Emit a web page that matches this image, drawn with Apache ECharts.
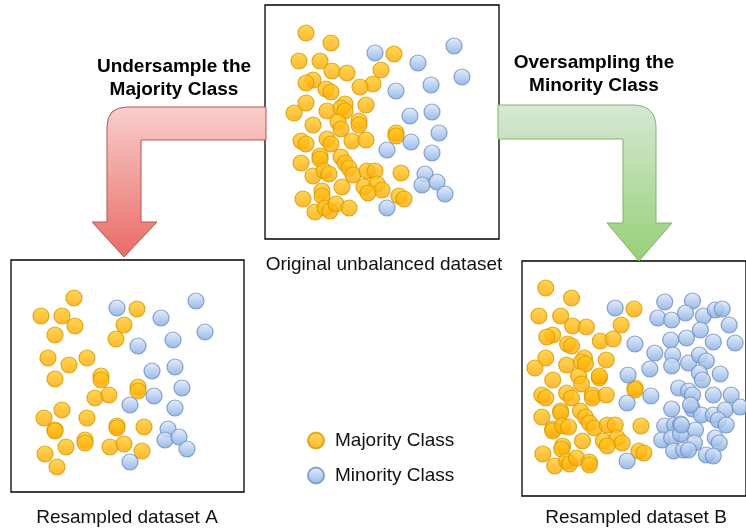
<!DOCTYPE html>
<html>
<head>
<meta charset="utf-8">
<script src="https://cdn.jsdelivr.net/npm/echarts@6/dist/echarts.min.js"></script>
<style>
  html, body { margin: 0; padding: 0; background: #fff; }
  #chart { width: 746px; height: 531px; }
</style>
</head>
<body>
<div id="chart"></div>
<script>
// point positions inside each box, in box pixels (x right, y down)
const origMajority = [[41,28],[66,38],[34,56],[55,56],[129,49],[116,65],[67,66],[82,68],[48,75],[41,78],[108,79],[95,82],[61,84],[66,87],[41,98],[29,108],[62,106],[80,99],[76,103],[80,106],[101,100],[48,120],[73,117],[76,124],[94,116],[94,120],[131,128],[131,131],[36,136],[41,139],[62,134],[66,139],[87,136],[101,135],[36,158],[55,151],[55,154],[76,152],[80,158],[84,163],[88,170],[48,171],[59,166],[64,169],[102,166],[110,166],[136,168],[77,182],[99,182],[112,179],[117,185],[103,188],[57,186],[57,191],[38,194],[134,191],[139,194],[50,207],[60,203],[65,206],[71,199],[84,203]];
const origMinority = [[110,48],[189,41],[153,58],[197,72],[131,86],[166,80],[145,111],[167,107],[174,128],[122,145],[146,137],[167,148],[160,169],[157,180],[172,177],[180,189],[122,203]];

const aMajority = [[63,38],[30,56],[51,56],[64,66],[44,75],[126,49],[113,65],[105,79],[37,98],[58,105],[76,98],[44,119],[90,116],[90,120],[127,127],[127,131],[84,138],[98,135],[51,150],[33,158],[76,158],[44,170],[44,171],[74,180],[74,183],[106,166],[106,168],[133,167],[55,187],[34,194],[46,207],[99,187],[113,184],[131,191]];
const aMinority = [[106,48],[185,41],[150,58],[194,72],[127,86],[162,80],[141,111],[164,107],[171,128],[119,145],[143,136],[164,148],[157,169],[154,180],[168,177],[176,189],[119,202]];

const bMajority = [[24,27],[50,37],[17,55],[39,55],[51,65],[65,66],[113,48],[100,64],[31,74],[25,76],[79,80],[92,78],[46,83],[50,85],[24,97],[13,107],[45,104],[63,97],[60,101],[64,103],[85,99],[31,119],[57,115],[60,123],[78,117],[78,115],[114,127],[114,129],[20,134],[24,137],[45,132],[50,137],[71,134],[71,137],[85,134],[20,156],[39,150],[39,152],[59,150],[64,156],[68,162],[73,167],[31,168],[31,170],[41,165],[47,166],[86,164],[94,164],[120,165],[61,180],[82,180],[96,177],[101,182],[86,185],[41,185],[40,188],[21,193],[118,190],[123,192],[33,205],[45,200],[48,203],[55,197],[68,201],[68,204]];
const bMinority = [[94,47],[144,41],[172,40],[137,57],[151,59],[165,52],[183,55],[195,49],[202,48],[209,64],[180,69],[150,79],[166,77],[193,81],[215,82],[114,83],[134,92],[152,94],[151,105],[168,102],[179,94],[186,100],[129,108],[107,114],[179,112],[182,119],[200,113],[158,127],[168,130],[172,134],[193,134],[211,134],[106,142],[130,135],[151,148],[172,148],[181,154],[193,154],[205,149],[198,159],[206,164],[220,146],[144,165],[154,164],[160,163],[141,179],[151,177],[160,173],[175,169],[174,182],[153,190],[163,189],[168,189],[195,177],[199,182],[186,194],[193,195],[106,200],[161,164],[170,144]];

const classNames = ['Majority Class', 'Minority Class'];

const boxes = [
  { left: 265, top: 5, width: 234, height: 234, major: origMajority, minor: origMinority },
  { left: 11, top: 260, width: 233, height: 232, major: aMajority, minor: aMinority },
  { left: 522, top: 261, width: 226, height: 235, major: bMajority, minor: bMinority }
];

const grad = (a, b) => ({ type: 'linear', x: 0, y: 0, x2: 0, y2: 1,
  colorStops: [{ offset: 0, color: a }, { offset: 1, color: b }] });
const orangeStyle = { color: grad('#ffcd28', '#ffa500'), borderColor: '#d79b00', borderWidth: 1.2 };
const blueStyle = { color: grad('#dfeafc', '#7ea6e0'), borderColor: '#6c8ebf', borderWidth: 1.2 };

// bent arrows as shapes
echarts.graphic.registerShape('redArrow', echarts.graphic.extendPath(
  'M266 107 L127 107 Q107 107 107 127 L107 222 L92 222 L124 257 L157 222 L141 222 L141 140 L266 140 Z'));
echarts.graphic.registerShape('greenArrow', echarts.graphic.extendPath(
  'M498 105 L633 105 Q656 105 656 128 L656 223 L672 223 L639 261 L607 223 L623 223 L623 139 L498 139 Z'));

const grid = [], xAxis = [], yAxis = [], series = [];
boxes.forEach((b, i) => {
  grid.push({ left: b.left, top: b.top, width: b.width, height: b.height, show: true,
    borderColor: '#000', borderWidth: 1.3, backgroundColor: '#fff' });
  xAxis.push({ gridIndex: i, type: 'value', min: 0, max: b.width, show: false });
  yAxis.push({ gridIndex: i, type: 'value', min: 0, max: b.height, inverse: true, show: false });
  series.push({ type: 'scatter', name: classNames[0], xAxisIndex: i, yAxisIndex: i,
    data: b.major, symbolSize: 16, itemStyle: orangeStyle, silent: true });
  series.push({ type: 'scatter', name: classNames[1], xAxisIndex: i, yAxisIndex: i,
    data: b.minor, symbolSize: 16, itemStyle: blueStyle, silent: true });
});

const font = '"Liberation Sans", Arial, Helvetica, sans-serif';

const chart = echarts.init(document.getElementById('chart'));
chart.setOption({
  animation: false,
  backgroundColor: '#fff',
  grid, xAxis, yAxis, series,
  legend: {
    data: classNames, orient: 'vertical', left: 302, top: 426, itemGap: 16,
    icon: 'circle', itemWidth: 16, itemHeight: 16, selectedMode: false,
    textStyle: { fontSize: 19, fontFamily: font, color: '#111', padding: [0, 0, 0, 6] }
  },
  graphic: [
    { type: 'redArrow', z: 1, silent: true,
      style: { fill: grad('#f8cecc', '#ea6b66'), stroke: '#b85450', lineWidth: 1 } },
    { type: 'greenArrow', z: 1, silent: true,
      style: { fill: grad('#d5e8d4', '#97d077'), stroke: '#82b366', lineWidth: 1 } },
    { type: 'text', x: 174, y: 55, style: { text: 'Undersample the\nMajority Class', textAlign: 'center', lineHeight: 23, fill: '#000', font: 'bold 19px ' + font } },
    { type: 'text', x: 594, y: 51, style: { text: 'Oversampling the\nMinority Class', textAlign: 'center', lineHeight: 23, fill: '#000', font: 'bold 19px ' + font } },
    { type: 'text', x: 384, y: 255, style: { text: 'Original unbalanced dataset', textAlign: 'center', fill: '#111', font: '19px ' + font } },
    { type: 'text', x: 127, y: 508, style: { text: 'Resampled dataset A', textAlign: 'center', fill: '#111', font: '19px ' + font } },
    { type: 'text', x: 636, y: 508, style: { text: 'Resampled dataset B', textAlign: 'center', fill: '#111', font: '19px ' + font } }
  ]
});
</script>
</body>
</html>
